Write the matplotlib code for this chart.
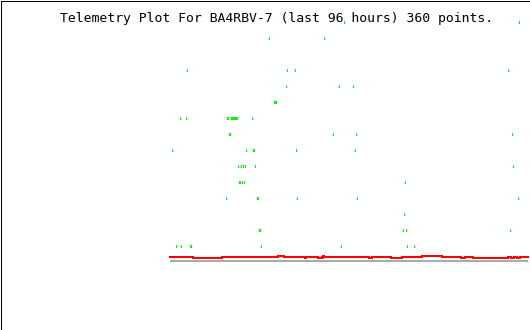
import numpy as np
import matplotlib
matplotlib.use("Agg")
import matplotlib.pyplot as plt
from matplotlib.patches import Rectangle

title = "Telemetry Plot For BA4RBV-7 (last 96 hours) 360 points."
n_points = 360

# green telemetry samples: (sample index, value)
green_idx = [116, 175, 350,
             99, 155,
             17, 118, 126, 339,
             117, 170, 184,
             104, 105, 106, 107,
             10, 16, 58, 59, 62, 63, 64, 65, 66, 67, 68, 83,
             60, 61, 164, 187, 343,
             2, 77, 84, 85, 127, 186,
             69, 72, 74, 76, 86, 344,
             70, 71, 73, 75, 236,
             57, 87, 88, 128, 188, 349,
             235,
             89, 90, 234, 237, 341,
             6, 11, 20, 21, 91, 172, 238, 245]
green_val = [239, 239, 239,
             223, 223,
             191, 191, 191, 191,
             175, 175, 175,
             159, 159, 159, 159,
             143, 143, 143, 143, 143, 143, 143, 143, 143, 143, 143, 143,
             127, 127, 127, 127, 127,
             111, 111, 111, 111, 111, 111,
             95, 95, 95, 95, 95, 95,
             79, 79, 79, 79, 79,
             63, 63, 63, 63, 63, 63,
             47,
             31, 31, 31, 31, 31,
             15, 15, 15, 15, 15, 15, 15, 15]

# red series as runs (value, number of samples)
red_levels = [4, 3, 4, 5, 4, 3, 4, 3, 5, 4, 3, 4, 3, 4, 5, 4, 3, 4, 3, 4, 3, 4, 3, 4]
red_counts = [24, 29, 56, 6, 21, 1, 12, 5, 1, 45, 3, 19, 11, 20, 20, 19, 4, 8, 35, 3, 3, 3, 3, 9]

gray_level = 0

W, H = 530, 330
fig = plt.figure(figsize=(W / 100, H / 100), dpi=100)
fig.patch.set_facecolor("white")

ax = fig.add_axes([169 / W, (H - 310) / H, 360 / W, 300 / H])
ax.set_xlim(-0.5, n_points - 0.5)
ax.set_ylim(-49, 251)
ax.axis("off")

x = np.arange(n_points)
red = np.repeat(red_levels, red_counts)
ax.plot(x, np.full(n_points, gray_level), color="#aaaaaa", lw=1.44,
        antialiased=False, solid_capstyle="butt")
ax.plot(x, red, color="#ff0000", lw=1.44, antialiased=False,
        solid_capstyle="butt")
gv = np.array(green_val)
ax.vlines(green_idx, gv - 1, gv + 1, color="#00ff00", lw=0.72,
          antialiased=False)

fig.text(60 / W, (H - 21.7) / H, title, family="DejaVu Sans Mono",
         fontsize=9.45, va="baseline", ha="left", color="black")

fig.patches.append(Rectangle((0.5 / W, 0.5 / H), (W - 1) / W, (H - 1) / H,
                             transform=fig.transFigure, fill=False,
                             ec="black", lw=0.72, antialiased=False))

fig.savefig("out.png", dpi=100)
